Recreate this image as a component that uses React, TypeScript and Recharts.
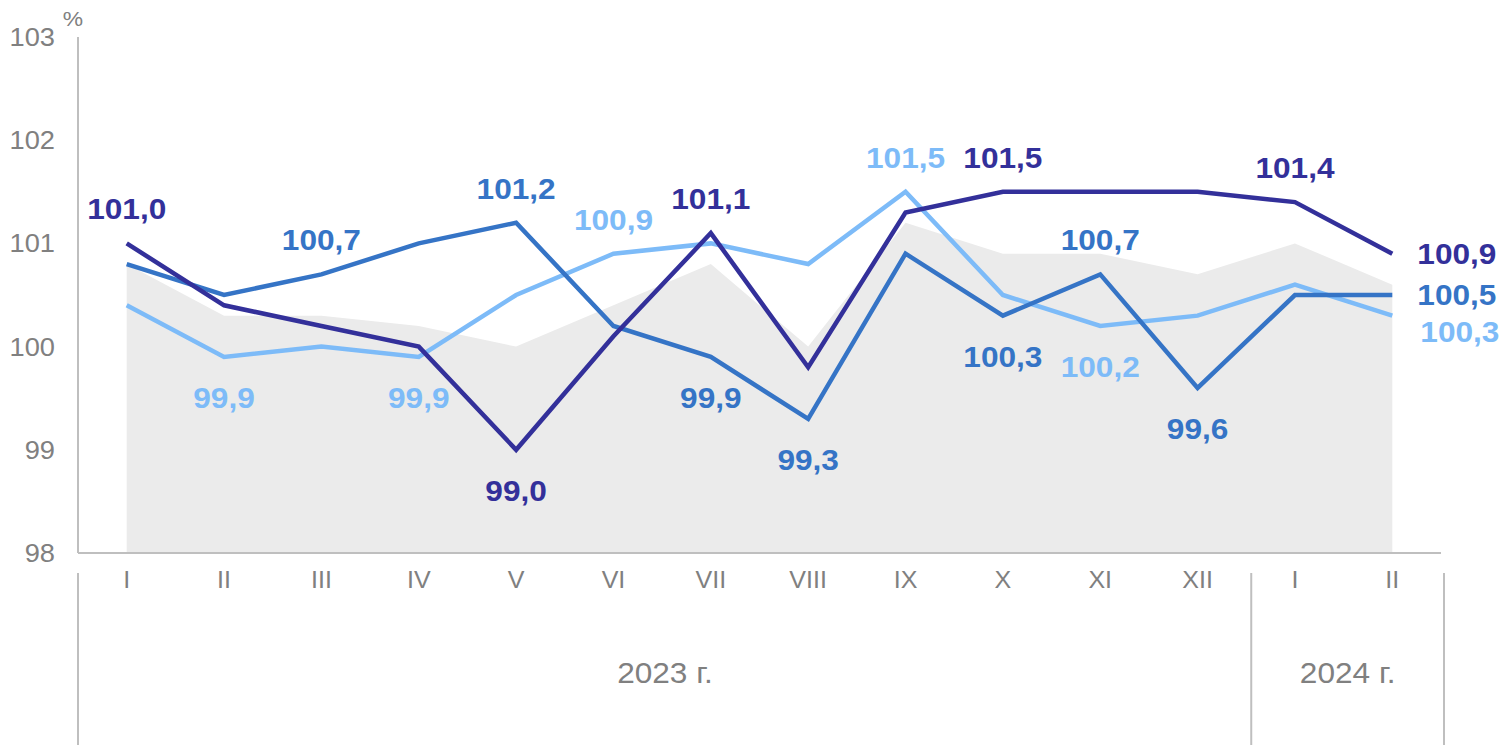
import { ComposedChart, Area, Line, XAxis, YAxis, LabelList } from 'recharts'

const months = ['I', 'II', 'III', 'IV', 'V', 'VI', 'VII', 'VIII', 'IX', 'X', 'XI', 'XII', 'I', 'II']
const years = [
  '2023 г.', '2023 г.', '2023 г.', '2023 г.', '2023 г.', '2023 г.', '2023 г.',
  '2023 г.', '2023 г.', '2023 г.', '2023 г.', '2023 г.', '2024 г.', '2024 г.',
]
const background = [100.8, 100.3, 100.3, 100.2, 100.0, 100.4, 100.8, 100.0, 101.2, 100.9, 100.9, 100.7, 101.0, 100.6]
const navy = [101.0, 100.4, 100.2, 100.0, 99.0, 100.1, 101.1, 99.8, 101.3, 101.5, 101.5, 101.5, 101.4, 100.9]
const blue = [100.8, 100.5, 100.7, 101.0, 101.2, 100.2, 99.9, 99.3, 100.9, 100.3, 100.7, 99.6, 100.5, 100.5]
const light = [100.4, 99.9, 100.0, 99.9, 100.5, 100.9, 101.0, 100.8, 101.5, 100.5, 100.2, 100.3, 100.6, 100.3]
const yTicks = [98, 99, 100, 101, 102, 103]

// where each point's value label goes (empty = no label)
type Place = '' | 'top' | 'bottom' | 'right' | 'rightLow'
const navyPlaces: Place[] = ['top', '', '', '', 'bottom', '', 'top', '', '', 'top', '', '', 'top', 'right']
const bluePlaces: Place[] = ['', '', 'top', '', 'top', '', 'bottom', 'bottom', '', 'bottom', 'top', 'bottom', '', 'right']
const lightPlaces: Place[] = ['', 'bottom', '', 'bottom', '', 'top', '', '', 'top', '', 'bottom', '', '', 'rightLow']

const data = months.map((m, i) => ({
  month: m,
  year: years[i],
  background: background[i],
  navy: navy[i],
  blue: blue[i],
  light: light[i],
}))

const FONT = '"Liberation Sans", Arial, sans-serif'
const GRAY = '#808080'
const AXIS = '#BFBFBF'
const C_NAVY = '#33309A'
const C_BLUE = '#3574C6'
const C_LIGHT = '#7DBBF8'
const STRETCH = 1.09 // the source text is a bit wider than Arial
const HALF = 48.7 // half a category slot, used as axis padding

const fmt = (v: number) => v.toFixed(1).replace('.', ',')

function Txt({ x, y, anchor = 'middle', children, ...rest }: any) {
  return (
    <text
      transform={`translate(${x},${y}) scale(${STRETCH},1)`}
      textAnchor={anchor}
      fontFamily={FONT}
      {...rest}
    >
      {children}
    </text>
  )
}

function makeLabel(color: string, places: Place[]) {
  return (props: any) => {
    const { x, y, value, index } = props
    const place = places[index]
    if (!place) return null
    let tx = x
    let ty = y
    let anchor = 'middle'
    if (place === 'top') ty = y - 24
    if (place === 'bottom') ty = y + 51
    if (place === 'right') {
      tx = x + 25
      ty = y + 10
      anchor = 'start'
    }
    if (place === 'rightLow') {
      tx = x + 28
      ty = y + 26
      anchor = 'start'
    }
    return (
      <Txt x={tx} y={ty} anchor={anchor} fill={color} fontSize={29} fontWeight="bold">
        {fmt(Number(value))}
      </Txt>
    )
  }
}

function MonthTick(props: any) {
  const { x, y, payload, index } = props
  const year = years[index]
  const isFirstOfYear = index === 0 || years[index - 1] !== year
  const isLast = index === months.length - 1
  // the separator between years sits a little right of the slot edge in the source
  const left = index === 0 ? x - HALF : x - HALF + 5
  let yearLabel = null
  if (isFirstOfYear) {
    const count = years.filter((yr) => yr === year).length
    const right = x - HALF + count * 2 * HALF + (index + count === months.length ? 3 : 5)
    yearLabel = (
      <Txt x={(left + right) / 2} y={y + 130} fill={GRAY} fontSize={29}>
        {year}
      </Txt>
    )
  }
  return (
    <g>
      <Txt x={x} y={y + 35} fill={GRAY} fontSize={23}>
        {payload.value}
      </Txt>
      {isFirstOfYear && <line x1={left} x2={left} y1={y + 20} y2={y + 200} stroke={AXIS} strokeWidth={2} />}
      {isLast && <line x1={x + HALF + 3} x2={x + HALF + 3} y1={y + 20} y2={y + 200} stroke={AXIS} strokeWidth={2} />}
      {yearLabel}
    </g>
  )
}

function ValueTick(props: any) {
  const { x, y, payload } = props
  return (
    <Txt x={x} y={y + 9} anchor="end" fill={GRAY} fontSize={25}>
      {payload.value}
    </Txt>
  )
}

export default function App() {
  return (
    <div style={{ position: 'absolute', left: 0, top: 0, width: 1499, height: 745 }}>
      <ComposedChart
        width={1499}
        height={745}
        data={data}
        margin={{ top: 37, right: 58, left: 0, bottom: 0 }}
      >
        <XAxis
          dataKey="month"
          padding={{ left: HALF, right: HALF }}
          height={192}
          interval={0}
          tickLine={false}
          tickSize={0}
          tickMargin={0}
          axisLine={{ stroke: AXIS, strokeWidth: 2 }}
          tick={<MonthTick />}
        />
        <YAxis
          width={78}
          type="number"
          domain={[98, 103]}
          ticks={yTicks}
          interval={0}
          allowDataOverflow
          tickLine={false}
          tickSize={6}
          tickMargin={17}
          axisLine={{ stroke: AXIS, strokeWidth: 2 }}
          tick={<ValueTick />}
          label={(p: any) => {
            const vb = p.viewBox || { x: 0, y: 37, width: 78 }
            return (
              <Txt x={vb.x + vb.width - 5} y={vb.y - 11} fill={GRAY} fontSize={21}>
                %
              </Txt>
            )
          }}
        />
        <Area
          dataKey="background"
          type="linear"
          fill="#EBEBEB"
          fillOpacity={1}
          stroke="none"
          isAnimationActive={false}
          dot={false}
          activeDot={false}
        />
        <Line dataKey="light" type="linear" stroke={C_LIGHT} strokeWidth={4.5} dot={false} activeDot={false} isAnimationActive={false}>
          <LabelList dataKey="light" content={makeLabel(C_LIGHT, lightPlaces)} />
        </Line>
        <Line dataKey="blue" type="linear" stroke={C_BLUE} strokeWidth={4.5} dot={false} activeDot={false} isAnimationActive={false}>
          <LabelList dataKey="blue" content={makeLabel(C_BLUE, bluePlaces)} />
        </Line>
        <Line dataKey="navy" type="linear" stroke={C_NAVY} strokeWidth={4.5} dot={false} activeDot={false} isAnimationActive={false}>
          <LabelList dataKey="navy" content={makeLabel(C_NAVY, navyPlaces)} />
        </Line>
      </ComposedChart>
    </div>
  )
}
